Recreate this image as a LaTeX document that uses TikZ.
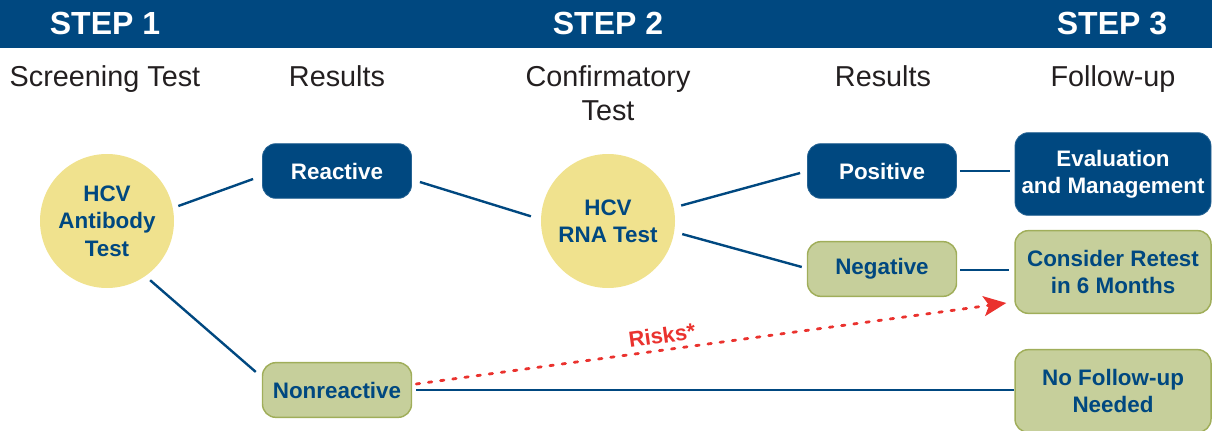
\documentclass[tikz,border=0pt]{standalone}
\usepackage{fontspec}
\setmainfont{Liberation Sans}
\usetikzlibrary{arrows.meta,calc}
\definecolor{navy}{RGB}{0,72,128}
\definecolor{pale}{RGB}{240,226,142}
\definecolor{sage}{RGB}{198,207,155}
\definecolor{olive}{RGB}{160,174,90}
\definecolor{riskred}{RGB}{234,50,46}
\definecolor{ink}{RGB}{35,31,32}
\begin{document}
\begin{tikzpicture}[x=0.75pt,y=-0.75pt,
  nodefont/.style={font=\fontsize{16.8}{20.5}\selectfont\bfseries},
  circ/.style={circle,fill=pale,minimum size=100.5pt,inner sep=0pt,nodefont,text=navy,align=center},
  darkbox/.style={rounded corners=10pt,fill=navy,draw=navy!85!white,line width=0.6pt,text=white,nodefont,align=center,inner sep=0pt},
  lightbox/.style={rounded corners=10pt,fill=sage,draw=olive,line width=1.1pt,text=navy,nodefont,align=center,inner sep=0pt},
  smallbox/.style={minimum width=111.75pt,minimum height=41pt},
  bigbox/.style={minimum width=147pt,minimum height=62pt},
  link/.style={draw=navy,line width=1.8pt},
  head/.style={text=ink,font=\fontsize{21.6}{25.5}\selectfont,align=center,inner sep=0pt},
  steplbl/.style={text=white,font=\fontsize{24}{28}\selectfont\bfseries,inner sep=0pt,anchor=base},
  risk/.style={draw=riskred,line width=2.1pt,line cap=round,dash pattern=on 2.6pt off 6.6pt,
    -{Stealth[length=17pt,width=15pt,inset=4pt,fill=riskred]}}]

\useasboundingbox (0,0) rectangle (1212,431);
\fill[navy] (0,0) rectangle (1212,48);

% step labels
\node[steplbl] (s1) at (105,35) {STEP 1};
\node[steplbl] (s2) at (608,35) {STEP 2};
\node[steplbl] (s3) at (1112,35) {STEP 3};

% column headings
\node[head,anchor=base] (h1) at (105,87) {Screening Test};
\node[head,anchor=base] (h2) at (337,87) {Results};
\node[head] (h3) at (608,93) {Confirmatory\\Test};
\node[head,anchor=base] (h4) at (883,87) {Results};
\node[head,anchor=base] (h5) at (1113,87) {Follow-up};

% nodes
\node[circ] (c1) at (107,221) {HCV\\Antibody\\Test};
\node[circ] (c2) at (608,221) {HCV\\RNA Test};
\node[darkbox,smallbox] (react) at (337,171) {Reactive};
\node[lightbox,smallbox] (nonreact) at (337,390) {Nonreactive};
\node[darkbox,smallbox] (pos) at (882,171) {Positive};
\node[lightbox,smallbox] (neg) at (882,269) {Negative};
\node[darkbox,bigbox] (eval) at (1113,174) {Evaluation\\and Management};
\node[lightbox,bigbox] (retest) at (1113,272) {Consider Retest\\in 6 Months};
\node[lightbox,bigbox] (nofu) at (1113,391) {No Follow-up\\Needed};

% connectors
\draw[link] ($(c1.12)+(5.5,-1)$) -- ($(react.west)+(-9,8)$);
\draw[link] ($(c1.-54)+(3.6,4.8)$) -- ($(nonreact.north west)+(-6,10)$);
\draw[link] ($(react.east)+(8,11)$) -- ($(c2.176)+(-10,0)$);
\draw[link] ($(c2.12)+(7.4,-1.5)$) -- ($(pos.west)+(-7,2)$);
\draw[link] ($(c2.-10)+(8,1.4)$) -- ($(neg.west)+(-5,-2)$);
\draw[link] ($(pos.east)+(3,0)$) -- ($(eval.west |- pos.east)+(-5,0)$);
\draw[link] ($(neg.east)+(3,1)$) -- ($(retest.west |- neg.east)+(-5,1)$);
\draw[link] ($(nonreact.east)+(4,0)$) -- (nonreact.east -| nofu.west);

% risk arrow
\draw[risk] ($(nonreact.east)+(4,-6)$) -- node[pos=0.42,sloped,above=4pt,text=riskred,font=\fontsize{16.5}{20}\selectfont\bfseries,inner sep=0pt] (risklbl) {Risks*} ($(retest.west)+(-8,31)$);
\end{tikzpicture}
\end{document}
